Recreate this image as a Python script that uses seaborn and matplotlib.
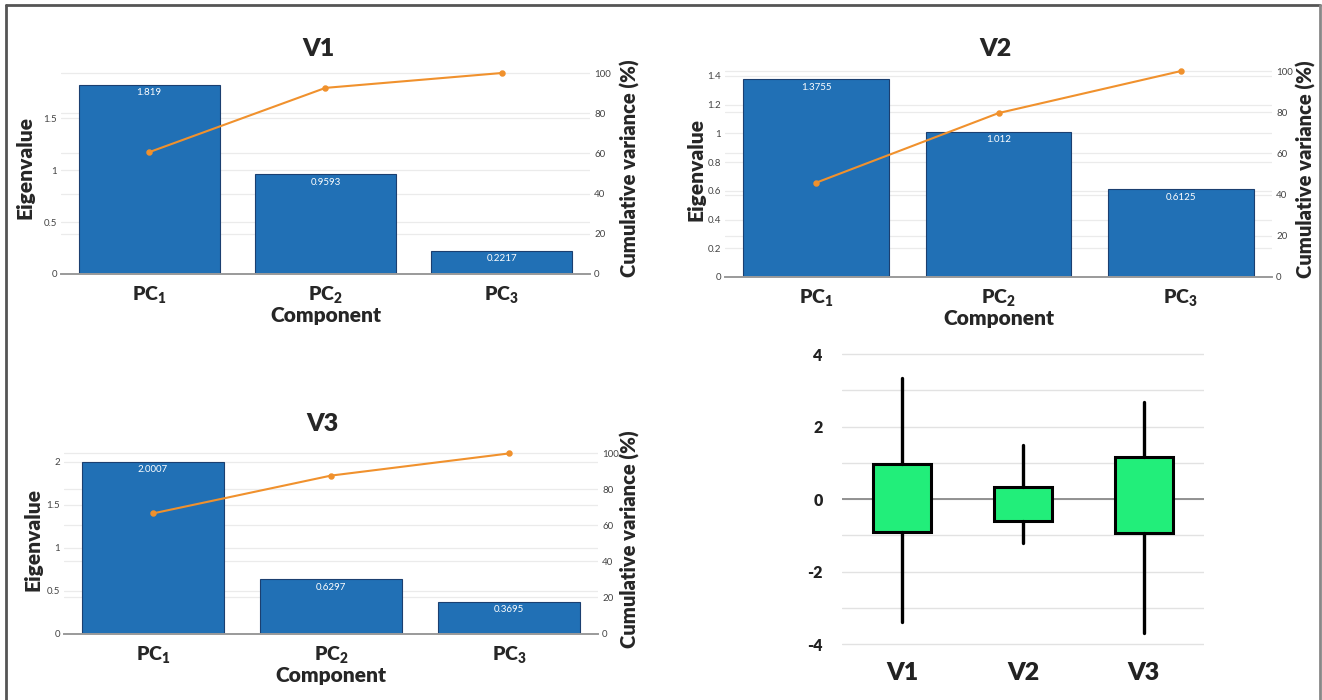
import matplotlib
matplotlib.use("Agg")
import matplotlib.pyplot as plt
from matplotlib.lines import Line2D
from matplotlib.ticker import FormatStrFormatter, FuncFormatter
import seaborn as sns

# ---------------- data ----------------
components = ["PC1", "PC2", "PC3"]
component_labels = [r"$\mathbf{PC}_{\mathbf{1}}$", r"$\mathbf{PC}_{\mathbf{2}}$", r"$\mathbf{PC}_{\mathbf{3}}$"]

v1_eigen = [1.819, 0.9593, 0.2217]
v1_cumvar = [60.6, 92.6, 100.0]
v2_eigen = [1.3755, 1.012, 0.6125]
v2_cumvar = [45.8, 79.6, 100.0]
v3_eigen = [2.0007, 0.6297, 0.3695]
v3_cumvar = [66.7, 87.7, 100.0]

box_cats = ["V1", "V2", "V3"]
box_q1 = [-0.91, -0.61, -0.95]
box_q3 = [0.97, 0.34, 1.17]
box_low = [-3.39, -1.20, -3.70]
box_high = [3.33, 1.49, 2.67]

# ---------------- style ----------------
sns.set_theme(style="white")
plt.rcParams["font.family"] = ["Lato", "DejaVu Sans"]
plt.rcParams["mathtext.fontset"] = "custom"
plt.rcParams["mathtext.bf"] = "Lato:weight=heavy"
plt.rcParams["mathtext.rm"] = "Lato"
plt.rcParams["axes.unicode_minus"] = False

BAR = "#2170b5"
BAR_EDGE = "#1b3f70"
LINE = "#f0912d"
GRID = "#ebebeb"
TICK = "#444444"

fig = plt.figure(figsize=(13.22, 7.0), dpi=100)


def pareto(rect, title, eigen, cumvar, ylim_l, ylim_r, yticks_l, title_x, title_pad,
           ylab_x, rlab_x):
    ax = fig.add_axes(rect)
    sns.barplot(x=components, y=eigen, ax=ax, color=BAR, saturation=1, width=0.8,
                edgecolor=BAR_EDGE, linewidth=0.8, zorder=2)
    ax.bar_label(ax.containers[0], labels=[str(v) for v in eigen], padding=-9,
                 color="white", fontsize=7)
    ax.set_ylim(*ylim_l)
    ax.set_yticks(yticks_l)
    ax.yaxis.set_major_formatter(FormatStrFormatter("%g"))
    ax.set_axisbelow(True)
    ax.grid(axis="y", color=GRID, lw=0.9)
    ax.grid(axis="x", visible=False)
    # faint grid lines at the right-axis ticks, drawn below the bars
    for t in range(20, 101, 20):
        ax.axhline(t * ylim_l[1] / ylim_r[1], color=GRID, lw=0.9, zorder=0)

    ax2 = ax.twinx()
    sns.pointplot(x=components, y=cumvar, ax=ax2, color=LINE, markers="o",
                  markersize=3.5, linewidth=1.5, errorbar=None)
    ax2.set_ylim(*ylim_r)
    ax2.set_yticks(range(0, 101, 20))
    ax2.grid(False)
    ax.set_xlim(-0.5, len(components) - 0.5)

    for a in (ax, ax2):
        for s in a.spines.values():
            s.set_visible(False)
    ax.spines["bottom"].set_visible(True)
    ax.spines["bottom"].set_color("#9a9a9a")
    ax.spines["bottom"].set_linewidth(1.4)

    ax.set_xticks(range(len(components)))
    ax.set_xticklabels(component_labels, fontsize=14)
    ax.tick_params(axis="x", length=0, pad=8)
    ax.tick_params(axis="y", length=0, pad=3, labelsize=7, labelcolor=TICK)
    ax2.tick_params(axis="y", length=0, pad=3, labelsize=7, labelcolor=TICK)
    ax2.tick_params(axis="x", length=0)

    ax.set_xlabel("Component", fontsize=15, fontweight="heavy", labelpad=0)
    ax.set_ylabel("Eigenvalue", fontsize=15, fontweight="heavy")
    ax.yaxis.set_label_coords(ylab_x, 0.5)
    ax2.set_ylabel("Cumulative variance (%)", fontsize=14.5, fontweight="heavy")
    ax2.yaxis.set_label_coords(rlab_x, 0.5)
    ax.set_title(title, fontsize=18, fontweight="heavy", x=title_x, pad=title_pad)
    return ax, ax2


pareto([0.0461, 0.6086, 0.4002, 0.3029], "V1", v1_eigen, v1_cumvar,
       (0, 2.04), (0, 105.5), [0, 0.5, 1, 1.5], 0.486, 4, -0.050, 1.056)
pareto([0.5484, 0.6043, 0.4138, 0.3071], "V2", v2_eigen, v2_cumvar,
       (0, 1.497), (0, 104.4), [0, 0.2, 0.4, 0.6, 0.8, 1.0, 1.2, 1.4], 0.4945, 4,
       -0.035, 1.044)
pareto([0.0484, 0.0950, 0.4039, 0.2693], "V3", v3_eigen, v3_cumvar,
       (0, 2.198), (0, 104.7), [0, 0.5, 1, 1.5, 2], 0.484, 10, -0.041, 1.041)

# ---------------- box panel ----------------
axb = fig.add_axes([0.6369, 0.0696, 0.2738, 0.435])
stats = []
for name, lo, q1, q3, hi in zip(box_cats, box_low, box_q1, box_q3, box_high):
    stats.append(dict(label=name, whislo=lo, q1=q1, med=q1, q3=q3, whishi=hi, fliers=[]))
axb.set_axisbelow(True)
axb.grid(axis="y", color="#e2e2e2", lw=1.0)
axb.axhline(0, color="#8a8a8a", lw=1.3, zorder=1)
axb.bxp(stats, positions=range(len(box_cats)), widths=0.48, patch_artist=True,
        showcaps=False, showfliers=False,
        boxprops=dict(facecolor="#22ee7a", edgecolor="black", linewidth=2.2),
        whiskerprops=dict(color="black", linewidth=2.4),
        medianprops=dict(visible=False), zorder=3)
axb.set_xlim(-0.5, len(box_cats) - 0.5)
axb.set_ylim(-4.2, 4.2)
axb.set_yticks(range(-4, 5, 1))
axb.yaxis.set_major_formatter(FuncFormatter(lambda v, p: f"{int(v)}" if int(v) % 2 == 0 else ""))
axb.set_xticks(range(len(box_cats)))
axb.set_xticklabels(box_cats, fontsize=18, fontweight="heavy")
for lab in axb.get_yticklabels():
    lab.set_fontweight("heavy")
axb.tick_params(axis="y", length=0, labelsize=11.5, pad=14, labelcolor="#222222")
axb.tick_params(axis="x", length=0, pad=8, labelcolor="#222222")
for s in axb.spines.values():
    s.set_visible(False)

# ---------------- figure border ----------------
bc = "#555555"
fig.add_artist(Line2D([0.0045, 0.0045], [0.0, 0.993], transform=fig.transFigure, color=bc, lw=2))
fig.add_artist(Line2D([0.0045, 0.9985], [0.993, 0.993], transform=fig.transFigure, color=bc, lw=2))
fig.add_artist(Line2D([0.9985, 0.9985], [0.0, 0.993], transform=fig.transFigure, color="#888888", lw=2))

fig.savefig("out.png", dpi=100)
